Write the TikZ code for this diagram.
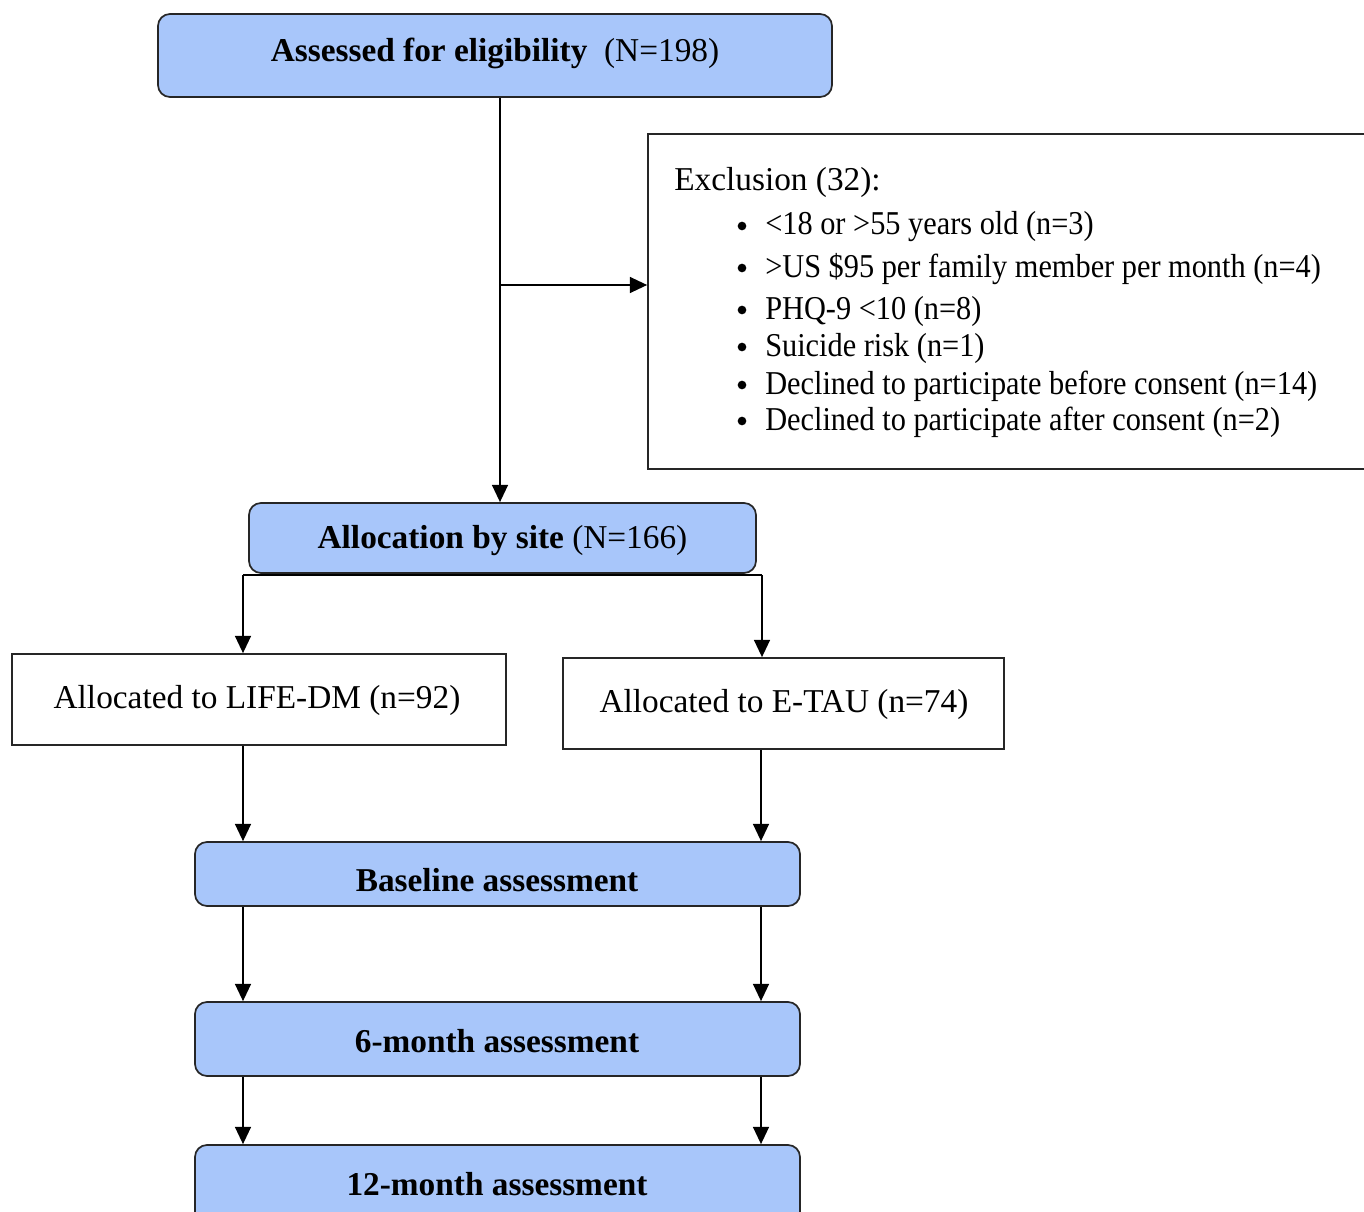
\documentclass[tikz,border=0pt]{standalone}
\usepackage{fontspec}
\setmainfont{Liberation Serif}
\usetikzlibrary{arrows.meta}
\definecolor{boxblue}{RGB}{168,198,250}
\newcommand{\sq}[1]{\scalebox{0.91}[1]{#1}}
\begin{document}
\begin{tikzpicture}[x=0.75pt,y=-0.75pt,
  font=\fontsize{25}{30}\selectfont,
  bluebox/.style={draw=black!85,line width=1.3pt,fill=boxblue,rounded corners=9pt,inner sep=0pt},
  whitebox/.style={draw=black!85,line width=1.3pt,fill=white,inner sep=0pt},
  arr/.style={line width=1.3pt,-{Triangle[length=13pt,width=12pt]}},
  ln/.style={line width=1.3pt},
  txt/.style={inner sep=0pt,anchor=west},
  ctxt/.style={inner sep=0pt},
  bul/.style={circle,fill=black,inner sep=0pt,minimum size=6.5pt}]
\useasboundingbox (0,0) rectangle (1364,1212);
\clip (0,0) rectangle (1364,1212);
% boxes
\node[bluebox,minimum width=674*0.75pt,minimum height=83*0.75pt] (top) at (495,55.5) {};
\node[ctxt] (topt) at (495,53) {\textbf{Assessed for eligibility}\ \ (N=198)};
\node[whitebox,minimum width=722*0.75pt,minimum height=335*0.75pt] (excl) at (1009,301.5) {};
\node[bluebox,minimum width=507*0.75pt,minimum height=70*0.75pt] (alloc) at (502.5,538) {};
\node[ctxt] (allt) at (502.5,541) {\textbf{Allocation by site} (N=166)};
\node[whitebox,minimum width=494*0.75pt,minimum height=91*0.75pt] (lifedm) at (259,699.5) {};
\node[ctxt] (lifet) at (257,700) {Allocated to LIFE-DM (n=92)};
\node[whitebox,minimum width=441*0.75pt,minimum height=91*0.75pt] (etau) at (783.5,703.5) {};
\node[ctxt] (etaut) at (784,704) {Allocated to E-TAU (n=74)};
\node[bluebox,minimum width=605*0.75pt,minimum height=64*0.75pt] (base) at (497.5,874) {};
\node[ctxt] (baset) at (497,880) {\textbf{Baseline assessment}};
\node[bluebox,minimum width=605*0.75pt,minimum height=74*0.75pt] (six) at (497.5,1039) {};
\node[ctxt] (sixt) at (497,1041) {\textbf{6-month assessment}};
\node[bluebox,minimum width=605*0.75pt,minimum height=110*0.75pt] (twelve) at (497.5,1200) {};
\node[ctxt] (twelvet) at (497,1184) {\textbf{12-month assessment}};
% exclusion text
\node[txt] (ex0) at (674,182) {Exclusion (32):};
\node[bul] (b1) at (742,226) {};
\node[txt] (e1) at (765,227) {\sq{<18 or >55 years old (n=3)}};
\node[bul] (b2) at (742,268) {};
\node[txt] (e2) at (765,269) {\sq{>US \$95 per family member per month (n=4)}};
\node[bul] (b3) at (742,310) {};
\node[txt] (e3) at (765,311) {\sq{PHQ-9 <10 (n=8)}};
\node[bul] (b4) at (742,347) {};
\node[txt] (e4) at (765,348) {\sq{Suicide risk (n=1)}};
\node[bul] (b5) at (742,385) {};
\node[txt] (e5) at (765,386) {\sq{Declined to participate before consent (n=14)}};
\node[bul] (b6) at (742,421) {};
\node[txt] (e6) at (765,422) {\sq{Declined to participate after consent (n=2)}};
% connectors
\coordinate (vx) at (500,0);
\draw[arr] (top.south -| vx) -- (alloc.north -| vx);
\coordinate (br) at (500,285);
\draw[arr] (br) -- (br -| excl.west);
\coordinate (la) at (243,575);
\coordinate (ra) at (762,575);
\draw[ln] (la) -- (ra);
\draw[arr] (la) -- (la |- lifedm.north);
\draw[arr] (ra) -- (ra |- etau.north);
\coordinate (lc) at (243,0);
\coordinate (rc) at (761,0);
\draw[arr] (lifedm.south -| lc) -- (base.north -| lc);
\draw[arr] (etau.south -| rc) -- (base.north -| rc);
\draw[arr] (base.south -| lc) -- (six.north -| lc);
\draw[arr] (base.south -| rc) -- (six.north -| rc);
\draw[arr] (six.south -| lc) -- (twelve.north -| lc);
\draw[arr] (six.south -| rc) -- (twelve.north -| rc);
\end{tikzpicture}
\end{document}
